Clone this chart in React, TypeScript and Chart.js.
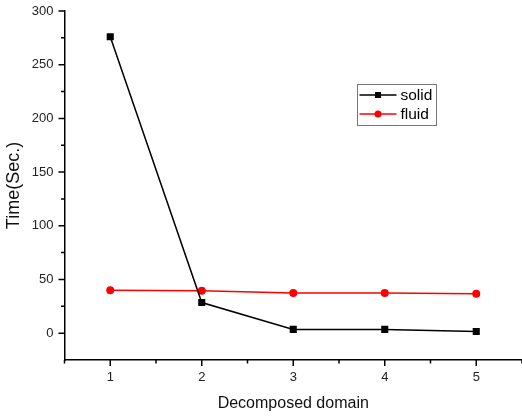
import React, { useEffect, useRef } from "react";
import { Chart, registerables } from "chart.js";

Chart.register(...registerables);

const domains = [1, 2, 3, 4, 5];
const solidTimes = [276, 28.5, 3.5, 3.5, 1.5];
const fluidTimes = [40, 39.5, 37.3, 37.3, 36.7];
const xMajorTicks = [1, 2, 3, 4, 5];
const xMinorTicks = [0.5, 1.5, 2.5, 3.5, 4.5, 5.5];
const yMajorTicks = [0, 50, 100, 150, 200, 250, 300];
const yMinorTicks = [25, 75, 125, 175, 225, 275];

const FONT = "'Liberation Sans', Arial, sans-serif";

const tickPlugin = {
  id: "originTicks",
  afterDraw(chart: any) {
    const { ctx, scales, chartArea } = chart;
    const x = scales.x;
    const y = scales.y;
    ctx.save();
    ctx.strokeStyle = "#000";
    ctx.lineWidth = 1.5;
    ctx.beginPath();
    const major = 6;
    const minor = 3.5;
    xMajorTicks.forEach((v) => {
      const px = x.getPixelForValue(v);
      ctx.moveTo(px, chartArea.bottom);
      ctx.lineTo(px, chartArea.bottom + major);
    });
    xMinorTicks.forEach((v) => {
      const px = x.getPixelForValue(v);
      ctx.moveTo(px, chartArea.bottom);
      ctx.lineTo(px, chartArea.bottom + minor);
    });
    yMajorTicks.forEach((v) => {
      const py = y.getPixelForValue(v);
      ctx.moveTo(chartArea.left, py);
      ctx.lineTo(chartArea.left - major, py);
    });
    yMinorTicks.forEach((v) => {
      const py = y.getPixelForValue(v);
      ctx.moveTo(chartArea.left, py);
      ctx.lineTo(chartArea.left - minor, py);
    });
    ctx.stroke();
    ctx.restore();
  },
};

const legendPlugin = {
  id: "boxLegend",
  afterDraw(chart: any, _args: any, opts: any) {
    const { ctx } = chart;
    const { left, top, width, height, rowGap, lineLen, textGap } = opts;
    ctx.save();
    ctx.strokeStyle = "#777";
    ctx.lineWidth = 1;
    ctx.strokeRect(left + 0.5, top + 0.5, width, height);
    chart.data.datasets.forEach((ds: any, i: number) => {
      const cy = top + 11 + i * rowGap;
      const x0 = left + 2.5;
      const x1 = x0 + lineLen;
      ctx.strokeStyle = ds.borderColor;
      ctx.lineWidth = 1.5;
      ctx.beginPath();
      ctx.moveTo(x0, cy);
      ctx.lineTo(x1, cy);
      ctx.stroke();
      ctx.fillStyle = ds.pointBackgroundColor;
      const cx = (x0 + x1) / 2;
      if (ds.pointStyle === "rect") {
        ctx.fillRect(cx - 3, cy - 3, 6, 6);
      } else {
        ctx.beginPath();
        ctx.arc(cx, cy, 3.5, 0, Math.PI * 2);
        ctx.fill();
      }
      ctx.fillStyle = "#000";
      ctx.font = `15.5px ${FONT}`;
      ctx.textBaseline = "middle";
      ctx.textAlign = "left";
      ctx.fillText(ds.label, x1 + textGap, cy + 0.5);
    });
    ctx.restore();
  },
};

export default function App() {
  const ref = useRef<HTMLCanvasElement | null>(null);
  useEffect(() => {
    if (!ref.current) return;
    const chart = new Chart(ref.current, {
      type: "line",
      data: {
        datasets: [
          {
            label: "solid",
            data: domains.map((d, i) => ({ x: d, y: solidTimes[i] })),
            borderColor: "#000000",
            backgroundColor: "#000000",
            pointBackgroundColor: "#000000",
            pointBorderColor: "#000000",
            pointStyle: "rect",
            pointRadius: 5,
            pointBorderWidth: 0,
            borderWidth: 1.5,
            tension: 0,
          },
          {
            label: "fluid",
            data: domains.map((d, i) => ({ x: d, y: fluidTimes[i] })),
            borderColor: "#ff0000",
            backgroundColor: "#ff0000",
            pointBackgroundColor: "#ff0000",
            pointBorderColor: "#ff0000",
            pointStyle: "circle",
            pointRadius: 4,
            pointBorderWidth: 0,
            borderWidth: 1.5,
            tension: 0,
          },
        ],
      },
      options: {
        animation: false,
        responsive: false,
        maintainAspectRatio: false,
        layout: { autoPadding: false, padding: { left: 0, top: 11, right: 0, bottom: 0 } },
        plugins: {
          legend: { display: false },
          tooltip: { enabled: false },
          boxLegend: {
            left: 357,
            top: 84,
            width: 79,
            height: 41,
            rowGap: 19,
            lineLen: 37,
            textGap: 4,
          },
        } as any,
        scales: {
          x: {
            type: "linear",
            min: 0.5,
            max: 5.5,
            afterBuildTicks: (s: any) => {
              s.ticks = xMajorTicks.map((v) => ({ value: v }));
            },
            afterFit: (s: any) => {
              s.height = 56;
              s.paddingLeft = 0;
              s.paddingRight = 0;
            },
            grid: { display: false, drawTicks: false },
            border: { display: true, color: "#000", width: 1.5 },
            ticks: {
              padding: 10,
              color: "#222",
              font: { family: FONT, size: 13 },
              maxRotation: 0,
              autoSkip: false,
              callback: (v: any) => String(v),
            },
            title: {
              display: true,
              text: "Decomposed domain",
              color: "#111",
              font: { family: FONT, size: 16 },
              padding: { top: 0, bottom: 3 },
            },
          },
          y: {
            type: "linear",
            min: -25,
            max: 300,
            afterBuildTicks: (s: any) => {
              s.ticks = yMajorTicks.map((v) => ({ value: v }));
            },
            afterFit: (s: any) => {
              s.width = 64.5;
              s.paddingTop = 0;
              s.paddingBottom = 0;
            },
            grid: { display: false, drawTicks: false },
            border: { display: true, color: "#000", width: 1.5 },
            ticks: {
              padding: 11,
              color: "#222",
              font: { family: FONT, size: 13 },
              autoSkip: false,
              callback: (v: any) => String(v),
            },
            title: {
              display: true,
              text: "Time(Sec.)",
              color: "#111",
              font: { family: FONT, size: 18 },
              padding: { top: 3, bottom: 0 },
            },
          },
        },
      },
      plugins: [tickPlugin, legendPlugin],
    });
    return () => chart.destroy();
  }, []);
  return (
    <div style={{ position: "absolute", left: 0, top: 0, width: 522, height: 416 }}>
      <canvas ref={ref} width={522} height={416} style={{ display: "block" }} />
    </div>
  );
}
